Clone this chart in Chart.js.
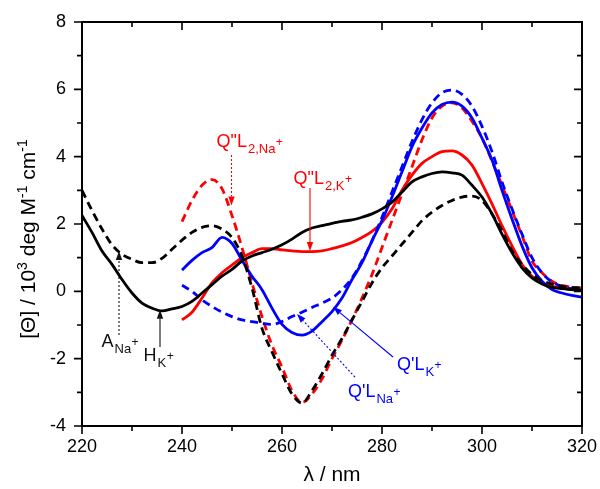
<!DOCTYPE html>
<html>
<head>
<meta charset="utf-8">
<script src="https://cdn.jsdelivr.net/npm/chart.js@4.4.1/dist/chart.umd.min.js"></script>
<style>
  body { margin: 0; background: #fff; }
  canvas { display: block; }
</style>
</head>
<body>
<canvas id="cdChart" width="600" height="489"></canvas>
<script>
// wavelengths (nm)
const lambdaFull = [220, 222, 224, 226, 228, 230, 232, 234, 236, 238, 240, 242, 244, 246, 248, 250,
  252, 254, 256, 258, 260, 262, 264, 266, 268, 270, 272, 274, 276, 278, 280, 282, 284, 286, 288, 290,
  292, 294, 296, 298, 300, 302, 304, 306, 308, 310, 312, 314, 316, 318, 320];
const lambdaShort = [240, 242, 244, 246, 248, 250, 252, 254, 256, 258, 260, 262, 264, 266, 268, 270,
  272, 274, 276, 278, 280, 282, 284, 286, 288, 290, 292, 294, 296, 298, 300, 302, 304, 306, 308, 310,
  312, 314, 316, 318, 320];

// ellipticity values, 10^3 deg M-1 cm-1
const hybridK = [2.25, 1.75, 1.2, 0.8, 0.35, -0.05, -0.35, -0.5, -0.58, -0.52, -0.45, -0.3, -0.05, 0.2, 0.45, 0.65,
  0.9, 1.05, 1.15, 1.25, 1.38, 1.55, 1.75, 1.88, 1.95, 2.02, 2.08, 2.12, 2.2, 2.3, 2.45, 2.65, 2.95, 3.25, 3.4, 3.5,
  3.55, 3.52, 3.45, 3.15, 2.8, 2.3, 1.7, 1.15, 0.7, 0.4, 0.22, 0.12, 0.08, 0.05, 0.02];
const antiNa = [3.0, 2.4, 1.85, 1.38, 1.1, 0.95, 0.85, 0.85, 0.98, 1.25, 1.52, 1.75, 1.9, 1.95, 1.85, 1.6,
  1.05, 0.1, -1.1, -1.8, -2.45, -3.05, -3.32, -2.95, -2.45, -1.9, -1.4, -0.85, -0.3, 0.25, 0.7, 1.05, 1.4, 1.75, 2.1, 2.35,
  2.55, 2.7, 2.8, 2.83, 2.7, 2.3, 1.8, 1.2, 0.8, 0.5, 0.32, 0.22, 0.15, 0.12, 0.1];
const q2K = [-0.85, -0.62, -0.2, 0.25, 0.55, 0.78, 1.0, 1.15, 1.27, 1.27, 1.23, 1.2, 1.18, 1.18, 1.2, 1.27,
  1.35, 1.45, 1.6, 1.78, 2.05, 2.45, 3.0, 3.45, 3.8, 4.0, 4.15, 4.17, 4.05, 3.75, 3.2, 2.6, 1.95, 1.35, 0.8, 0.45,
  0.25, 0.15, 0.1, 0.05, 0.02];
const q2Na = [2.07, 2.7, 3.15, 3.32, 3.05, 2.25, 1.3, 0.25, -0.75, -1.6, -2.25, -2.95, -3.3, -3.05, -2.6, -2.0,
  -1.45, -0.85, -0.2, 0.5, 1.3, 2.1, 2.9, 3.7, 4.5, 5.15, 5.5, 5.6, 5.45, 5.05, 4.55, 3.87, 3.15, 2.4, 1.65, 0.9,
  0.55, 0.3, 0.18, 0.12, 0.1];
const q1K = [0.63, 0.92, 1.15, 1.3, 1.6, 1.42, 0.92, 0.45, 0.05, -0.5, -0.98, -1.22, -1.3, -1.18, -0.9, -0.6,
  -0.2, 0.35, 0.85, 1.5, 2.1, 2.8, 3.55, 4.3, 4.85, 5.3, 5.55, 5.62, 5.5, 5.15, 4.55, 3.9, 3.0, 2.15, 1.35, 0.7,
  0.3, 0.05, -0.05, -0.12, -0.17];
const q1Na = [0.18, 0.0, -0.25, -0.45, -0.62, -0.75, -0.85, -0.9, -0.95, -0.98, -0.9, -0.75, -0.62, -0.48, -0.35, -0.2,
  0.05, 0.4, 0.9, 1.5, 2.2, 2.95, 3.7, 4.45, 5.1, 5.6, 5.9, 5.98, 5.85, 5.5, 4.9, 4.15, 3.25, 2.45, 1.7, 1.0,
  0.55, 0.28, 0.15, 0.08, 0.05];

const xTicks = [220, 240, 260, 280, 300, 320];
const yTicks = [-4, -2, 0, 2, 4, 6, 8];

function pts(xs, ys) {
  return xs.map((x, i) => ({ x: x, y: ys[i] }));
}

function series(label, xs, ys, color, dashed) {
  return {
    label: label,
    data: pts(xs, ys),
    borderColor: color,
    borderWidth: 2.8,
    borderDash: dashed ? [8, 5] : [],
    pointRadius: 0,
    fill: false,
    cubicInterpolationMode: 'monotone'
  };
}

const FONT = '"Liberation Sans", Arial, sans-serif';

function drawRich(ctx, x, y, main, sub, sup, color) {
  ctx.fillStyle = color;
  ctx.textAlign = 'left';
  ctx.textBaseline = 'alphabetic';
  ctx.font = '18px ' + FONT;
  ctx.fillText(main, x, y);
  let cx = x + ctx.measureText(main).width + 1;
  ctx.font = '13px ' + FONT;
  ctx.fillText(sub, cx, y + 6);
  cx += ctx.measureText(sub).width + 0.5;
  ctx.font = '12px ' + FONT;
  ctx.fillText(sup, cx, y - 1);
}

function arrow(ctx, x1, y1, x2, y2, color, dotted) {
  const ang = Math.atan2(y2 - y1, x2 - x1);
  const len = 9, half = 3.2;
  const bx = x2 - len * Math.cos(ang), by = y2 - len * Math.sin(ang);
  ctx.save();
  ctx.strokeStyle = color;
  ctx.fillStyle = color;
  ctx.lineWidth = 1.1;
  ctx.setLineDash(dotted ? [2, 2] : []);
  ctx.beginPath();
  ctx.moveTo(x1, y1);
  ctx.lineTo(bx, by);
  ctx.stroke();
  ctx.setLineDash([]);
  ctx.beginPath();
  ctx.moveTo(x2, y2);
  ctx.lineTo(bx - half * Math.sin(ang), by + half * Math.cos(ang));
  ctx.lineTo(bx + half * Math.sin(ang), by - half * Math.cos(ang));
  ctx.closePath();
  ctx.fill();
  ctx.restore();
}

// frame, mirrored ticks, axis titles and peak labels
const decorPlugin = {
  id: 'decor',
  afterDraw(chart) {
    const ctx = chart.ctx;
    const a = chart.chartArea;
    const xs = chart.scales.x, ys = chart.scales.y;
    const X = v => xs.getPixelForValue(v);
    const Y = v => ys.getPixelForValue(v);

    ctx.save();
    ctx.strokeStyle = '#000';
    ctx.lineWidth = 2;
    ctx.strokeRect(a.left, a.top, a.right - a.left, a.bottom - a.top);

    ctx.lineWidth = 1.6;
    ctx.beginPath();
    for (let v = 220; v <= 320; v += 10) {
      const major = xTicks.includes(v);
      const L = major ? 8 : 5;
      const px = X(v);
      ctx.moveTo(px, a.bottom); ctx.lineTo(px, a.bottom + L);
      ctx.moveTo(px, a.top); ctx.lineTo(px, a.top + L);
    }
    for (let v = -4; v <= 8; v += 1) {
      const major = yTicks.includes(v);
      const L = major ? 8 : 5;
      const py = Y(v);
      ctx.moveTo(a.left, py); ctx.lineTo(a.left - L, py);
      ctx.moveTo(a.right, py); ctx.lineTo(a.right - L, py);
    }
    ctx.stroke();

    // x title
    ctx.fillStyle = '#000';
    ctx.font = '21px ' + FONT;
    ctx.textAlign = 'center';
    ctx.textBaseline = 'alphabetic';
    ctx.fillText('λ / nm', (a.left + a.right) / 2, 481);

    // y title, rotated
    const parts = [
      ['[Θ] / 10', 21, 0], ['3', 14, -8], [' deg M', 21, 0], ['-1', 14, -8], [' cm', 21, 0], ['-1', 14, -8]
    ];
    let total = 0;
    parts.forEach(p => { ctx.font = p[1] + 'px ' + FONT; total += ctx.measureText(p[0]).width; });
    ctx.translate(35, 239);
    ctx.rotate(-Math.PI / 2);
    ctx.textAlign = 'left';
    let cx = -total / 2;
    parts.forEach(p => {
      ctx.font = p[1] + 'px ' + FONT;
      ctx.fillText(p[0], cx, p[2]);
      cx += ctx.measureText(p[0]).width;
    });
    ctx.restore();

    ctx.save();
    // Q''L 2,Na+
    drawRich(ctx, X(246.9), Y(4.29), 'Q"L', '2,Na', '+', '#ff0000');
    arrow(ctx, X(249.9), Y(4.05), X(249.9), Y(2.55), '#ff0000', true);
    // Q''L 2,K+
    drawRich(ctx, X(262.3), Y(3.2), 'Q"L', '2,K', '+', '#ff0000');
    arrow(ctx, X(265.6), Y(3.07), X(265.6), Y(1.2), '#ff0000', false);
    // A Na+
    drawRich(ctx, X(223.9), Y(-1.65), 'A', 'Na', '+', '#111');
    arrow(ctx, X(227.4), Y(-1.3), X(227.4), Y(1.2), '#111', true);
    // H K+
    drawRich(ctx, X(232.3), Y(-2.07), 'H', 'K', '+', '#111');
    arrow(ctx, X(235.6), Y(-1.65), X(235.6), Y(-0.55), '#111', false);
    // Q'L K+
    drawRich(ctx, X(283), Y(-2.34), "Q'L", 'K', '+', '#0000ff');
    arrow(ctx, X(282.2), Y(-1.95), X(270.2), Y(-0.46), '#0000ff', false);
    // Q'L Na+
    drawRich(ctx, X(273.2), Y(-3.14), "Q'L", 'Na', '+', '#0000ff');
    arrow(ctx, X(274.6), Y(-2.55), X(263), Y(-0.67), '#0000ff', true);
    ctx.restore();
  }
};

const tickFont = { family: FONT, size: 18 };

function fixH(h) {
  return s => { s.height = h; s.paddingLeft = 0; s.paddingRight = 0; };
}
function fixW(w) {
  return s => { s.width = w; s.paddingTop = 0; s.paddingBottom = 0; };
}

new Chart(document.getElementById('cdChart').getContext('2d'), {
  type: 'line',
  data: {
    datasets: [
      series('A Na+', lambdaFull, antiNa, '#000000', true),
      series('H K+', lambdaFull, hybridK, '#000000', false),
      series("Q'L Na+", lambdaShort, q1Na, '#0000ff', true),
      series("Q'L K+", lambdaShort, q1K, '#0000ff', false),
      series('Q"L2 Na+', lambdaShort, q2Na, '#ff0000', true),
      series('Q"L2 K+', lambdaShort, q2K, '#ff0000', false)
    ]
  },
  options: {
    responsive: false,
    animation: false,
    layout: { padding: 0 },
    plugins: { legend: { display: false }, tooltip: { enabled: false } },
    scales: {
      x: {
        type: 'linear', position: 'bottom', min: 220, max: 320,
        afterBuildTicks: s => { s.ticks = xTicks.map(v => ({ value: v })); },
        ticks: { font: tickFont, color: '#000', padding: 10, maxRotation: 0 },
        grid: { display: false, drawTicks: false },
        border: { display: false },
        afterFit: fixH(63)
      },
      xTop: {
        type: 'linear', position: 'top', min: 220, max: 320,
        ticks: { display: false },
        grid: { display: false, drawTicks: false },
        border: { display: false },
        afterFit: fixH(22)
      },
      y: {
        type: 'linear', position: 'left', min: -4, max: 8,
        afterBuildTicks: s => { s.ticks = yTicks.map(v => ({ value: v })); },
        ticks: { font: tickFont, color: '#000', padding: 16 },
        grid: { display: false, drawTicks: false },
        border: { display: false },
        afterFit: fixW(82)
      },
      yRight: {
        type: 'linear', position: 'right', min: -4, max: 8,
        ticks: { display: false },
        grid: { display: false, drawTicks: false },
        border: { display: false },
        afterFit: fixW(18)
      }
    }
  },
  plugins: [decorPlugin]
});
</script>
</body>
</html>
